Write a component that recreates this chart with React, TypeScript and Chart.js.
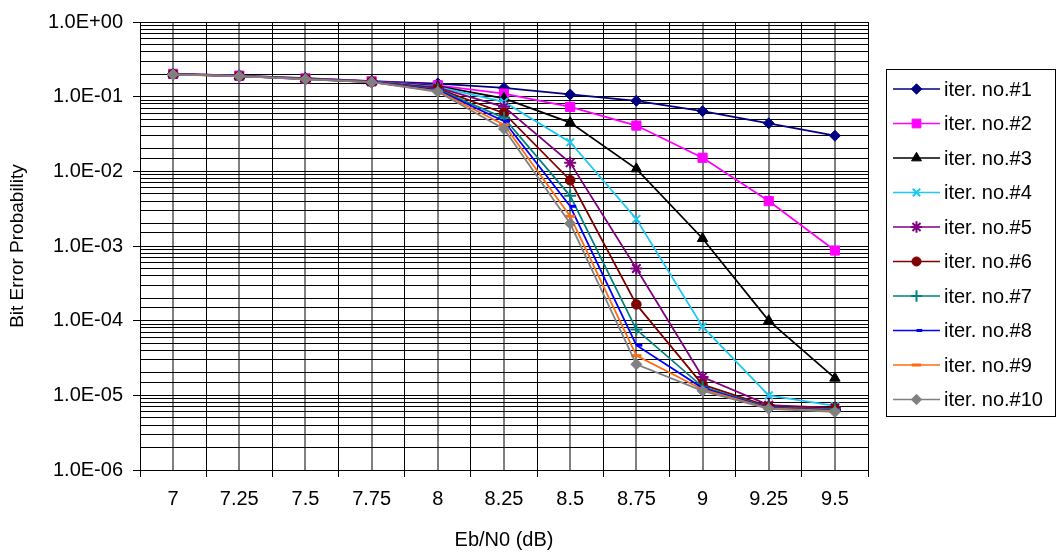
import React, { useEffect, useRef } from 'react';
import { Chart, registerables } from 'chart.js';
import { drawPoint } from 'chart.js/helpers';

Chart.register(...registerables);

const ebn0Labels = ['7', '7.25', '7.5', '7.75', '8', '8.25', '8.5', '8.75', '9', '9.25', '9.5'];

const iter1 = [0.203, 0.192, 0.177, 0.162, 0.150, 0.131, 0.107, 0.088, 0.064, 0.044, 0.030];
const iter2 = [0.202, 0.191, 0.176, 0.161, 0.142, 0.110, 0.073, 0.041, 0.0152, 0.0040, 0.00087];
const iter3 = [0.201, 0.190, 0.175, 0.160, 0.138, 0.095, 0.045, 0.0108, 0.00126, 0.000100, 0.0000170];
const iter4 = [0.200, 0.190, 0.174, 0.159, 0.135, 0.085, 0.0245, 0.0023, 0.0000830, 0.0000100, 0.0000072];
const iter5 = [0.200, 0.189, 0.174, 0.158, 0.132, 0.073, 0.0130, 0.00050, 0.0000176, 0.0000074, 0.0000068];
const iter6 = [0.200, 0.189, 0.173, 0.158, 0.128, 0.060, 0.0076, 0.000165, 0.0000139, 0.0000071, 0.0000067];
const iter7 = [0.199, 0.189, 0.173, 0.157, 0.125, 0.052, 0.0047, 0.000076, 0.0000130, 0.0000069, 0.0000065];
const iter8 = [0.199, 0.188, 0.172, 0.157, 0.122, 0.047, 0.0034, 0.000047, 0.0000125, 0.0000068, 0.0000063];
const iter9 = [0.199, 0.188, 0.172, 0.156, 0.119, 0.042, 0.0025, 0.000034, 0.0000120, 0.0000067, 0.0000062];
const iter10 = [0.198, 0.188, 0.171, 0.156, 0.116, 0.037, 0.0020, 0.000026, 0.0000115, 0.0000066, 0.0000060];

const seriesValues = [iter1, iter2, iter3, iter4, iter5, iter6, iter7, iter8, iter9, iter10];
const seriesNames = [
  'iter. no.#1', 'iter. no.#2', 'iter. no.#3', 'iter. no.#4', 'iter. no.#5',
  'iter. no.#6', 'iter. no.#7', 'iter. no.#8', 'iter. no.#9', 'iter. no.#10',
];
const seriesColors = [
  '#000080', '#FF00FF', '#000000', '#1CC8F4', '#800080',
  '#800000', '#008080', '#0000FF', '#FF6A10', '#808080',
];
const seriesPointStyles = ['rectRot', 'rect', 'triangle', 'crossRot', 'star', 'circle', 'cross', 'dash', 'line', 'rectRot'];
const seriesPointRadius = [5.5, 6.5, 6, 5.5, 6, 4.8, 6, 6, 5, 5.5];
const seriesPointBorder = [1, 1, 1, 2, 2, 1, 2, 3, 3, 1];

const yTickLabel = (v: number) => {
  const l = Math.log10(v);
  const e = Math.round(l);
  if (Math.abs(l - e) > 1e-6) return '';
  return '1.0E' + (e < 0 ? '-' : '+') + String(Math.abs(e)).padStart(2, '0');
};
const isMajor = (v: number) => {
  const l = Math.log10(v);
  return Math.abs(l - Math.round(l)) < 1e-6;
};

const FONT_FAMILY = '"Liberation Sans", Arial, sans-serif';
const FONT_SIZE = 20;

const legendPlugin = {
  id: 'boxLegend',
  afterDraw(chart: any) {
    const ctx = chart.ctx;
    const area = chart.chartArea;
    const left = area.right + 18;
    const right = chart.width - 4;
    const top = 69;
    const bottom = 416;
    ctx.save();
    ctx.strokeStyle = '#000000';
    ctx.lineWidth = 1;
    ctx.strokeRect(Math.round(left) + 0.5, top + 0.5, Math.round(right - left), bottom - top);
    const first = 89;
    const step = 34.5;
    chart.data.datasets.forEach((ds: any, i: number) => {
      const y = first + i * step;
      const x0 = left + 7;
      const x1 = left + 54;
      ctx.strokeStyle = ds.borderColor;
      ctx.lineWidth = 1.5;
      ctx.beginPath();
      ctx.moveTo(x0, y);
      ctx.lineTo(x1, y);
      ctx.stroke();
      ctx.fillStyle = ds.pointBackgroundColor;
      ctx.strokeStyle = ds.pointBorderColor;
      ctx.lineWidth = ds.pointBorderWidth;
      drawPoint(ctx, { pointStyle: ds.pointStyle, radius: ds.pointRadius * 0.95, borderWidth: ds.pointBorderWidth, rotation: 0 }, (x0 + x1) / 2, y);
      ctx.fillStyle = '#000000';
      ctx.font = `${FONT_SIZE}px ${FONT_FAMILY}`;
      ctx.textBaseline = 'middle';
      ctx.textAlign = 'left';
      ctx.fillText(ds.label, x1 + 4, y + 1);
    });
    ctx.restore();
  },
};

export default function App() {
  const canvasRef = useRef<HTMLCanvasElement | null>(null);

  useEffect(() => {
    document.body.style.margin = '0';
    const canvas = canvasRef.current;
    if (!canvas) return;
    const datasets = seriesValues.map((vals, i) => ({
      label: seriesNames[i],
      data: vals,
      borderColor: seriesColors[i],
      backgroundColor: seriesColors[i],
      pointBackgroundColor: seriesColors[i],
      pointBorderColor: seriesColors[i],
      pointStyle: seriesPointStyles[i],
      pointRadius: seriesPointRadius[i],
      pointBorderWidth: seriesPointBorder[i],
      borderWidth: 1.75,
      tension: 0,
      fill: false,
      order: -i,
    }));
    const chart = new Chart(canvas, {
      type: 'line',
      data: { labels: ebn0Labels, datasets },
      plugins: [legendPlugin],
      options: {
        animation: false,
        responsive: false,
        devicePixelRatio: 1,
        layout: { padding: { left: 0, right: 191, top: 16, bottom: 0 } },
        plugins: { legend: { display: false }, tooltip: { enabled: false } },
        font: { family: FONT_FAMILY, size: FONT_SIZE },
        scales: {
          x: {
            type: 'category',
            offset: true,
            position: 'bottom',
            grid: {
              offset: true,
              color: '#000000',
              lineWidth: 1,
              drawTicks: true,
              tickLength: 7,
              tickColor: '#000000',
            },
            border: { display: true, color: '#000000', width: 1 },
            ticks: {
              color: '#000000',
              font: { family: FONT_FAMILY, size: FONT_SIZE },
              padding: 10,
              maxRotation: 0,
              autoSkip: false,
            },
            title: {
              display: true,
              text: 'Eb/N0 (dB)',
              color: '#000000',
              font: { family: FONT_FAMILY, size: FONT_SIZE },
              padding: { top: 0, bottom: 2 },
            },
            afterFit: (s: any) => { s.height = 84; },
          },
          x2: {
            type: 'category',
            offset: true,
            position: 'bottom',
            labels: ebn0Labels,
            grid: { offset: false, color: '#808080', lineWidth: 2, drawTicks: false },
            border: { display: false },
            ticks: { display: false },
            afterFit: (s: any) => { s.height = 0; },
          },
          y: {
            type: 'logarithmic',
            min: 1e-6,
            max: 1,
            position: 'left',
            grid: {
              color: '#000000',
              lineWidth: 1,
              drawTicks: true,
              tickLength: 7,
              tickColor: (c: any) => (c.tick && isMajor(c.tick.value) ? '#000000' : 'rgba(0,0,0,0)'),
            },
            border: { display: true, color: '#000000', width: 1 },
            ticks: {
              autoSkip: false,
              color: '#000000',
              font: { family: FONT_FAMILY, size: FONT_SIZE },
              padding: 10,
              callback: (v: any) => yTickLabel(Number(v)),
            },
            title: {
              display: true,
              text: 'Bit Error Probability',
              color: '#000000',
              font: { family: FONT_FAMILY, size: 19 },
              padding: { top: 6, bottom: 0 },
            },
            afterFit: (s: any) => { s.width = 140; },
          },
        },
      },
    } as any);
    return () => chart.destroy();
  }, []);

  return (
    <div style={{ width: 1059, height: 554, background: '#ffffff' }}>
      <canvas ref={canvasRef} width={1059} height={554} style={{ display: 'block' }} />
    </div>
  );
}
